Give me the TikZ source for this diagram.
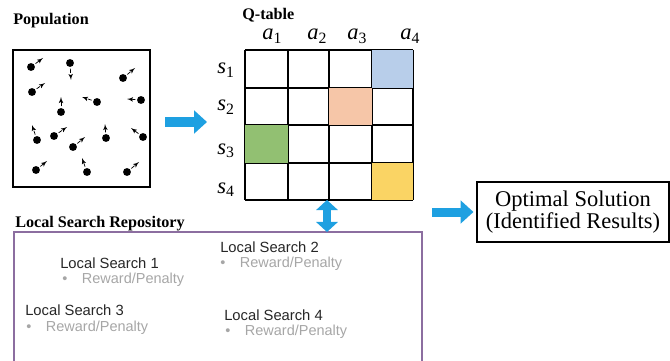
\documentclass[tikz,border=0pt]{standalone}
\usepackage{fontspec}
\setmainfont{Liberation Serif}
\setsansfont{Liberation Sans}
\usetikzlibrary{shapes,arrows,arrows.meta}
\definecolor{arrowblue}{RGB}{30,160,225}
\definecolor{repopurple}{RGB}{140,110,160}
\definecolor{cellblue}{RGB}{184,206,234}
\definecolor{cellpeach}{RGB}{246,198,168}
\definecolor{cellgreen}{RGB}{146,192,114}
\definecolor{cellyellow}{RGB}{250,212,100}
\tikzstyle{heading} = [font=\bfseries\fontsize{11.5}{13}\selectfont, inner sep=0pt, anchor=west]
\tikzstyle{qlabel} = [font=\fontsize{16}{16}\selectfont, inner sep=0pt, text height=0.5em, text depth=0.2em, anchor=base west]
\tikzstyle{agent} = [circle, fill=black, inner sep=0pt, minimum size=5.6pt]
\tikzstyle{drift} = [densely dashed, -latex', line width=0.5pt, shorten <=1pt]
\tikzstyle{bigarrow} = [draw=arrowblue, line width=0.225cm, -{Triangle[length=0.32cm,width=0.56cm]}]
\tikzstyle{lstitle} = [font=\sffamily\fontsize{10.5}{12}\selectfont, text=black!85, inner sep=0pt, anchor=west]
\tikzstyle{reward} = [font=\sffamily\fontsize{10.3}{12}\selectfont, text=black!35, inner sep=0pt, anchor=west]
\newcommand{\rewardline}{\makebox[14pt][l]{\textbullet}Reward/Penalty}
\newcommand{\qsym}[2]{\textit{#1}\textsubscript{#2}}

\begin{document}
\begin{tikzpicture}[x=0.025cm, y=-0.025cm]
		\useasboundingbox (0,0) rectangle (670,361);
		\node [heading] (pophead) at (13,21) {Population};
		\node [draw, line width=1.1pt, minimum width=3.425cm, minimum height=3.425cm] (pop) at (81.5,118.5) {};
		\foreach \x/\y/\u/\v [count=\i] in {31/67/43/58, 70/63/71/80, 123/78/135/68, 32/92/45/83,
			61/112/61/97, 97/102/82/97, 141/100/127/99, 37/140/32/125, 54/136/67/127,
			73/147/85/137, 106/138/105/124, 143/137/131/128, 36/170/47/161, 87/172/82/158, 127/172/139/162} {
			\node [agent] (p\i) at (\x,\y) {};
			\draw [drift] (p\i) -- (\u,\v);
		}
		
		\node [heading] (qhead) at (242,15) {Q-table};
		\foreach \x in {245,288,329,372,413}
			\draw [line width=0.9pt] (\x,50) -- (\x,200);
		\foreach \y in {50,88,125,163,200}
			\draw [line width=0.9pt] (245,\y) -- (413,\y);
		\fill [cellblue] (372,50) rectangle (413,88);
		\fill [cellpeach] (329,88) rectangle (372,125);
		\fill [cellgreen] (245,125) rectangle (288,163);
		\fill [cellyellow] (372,163) rectangle (413,200);
		\node [qlabel] (a1) at (262,40) {\qsym{a}{1}};
		\node [qlabel] (a2) at (307,40) {\qsym{a}{2}};
		\node [qlabel] (a3) at (347,40) {\qsym{a}{3}};
		\node [qlabel] (a4) at (400,40) {\qsym{a}{4}};
		\node [qlabel] (s1) at (217,74) {\qsym{s}{1}};
		\node [qlabel] (s2) at (217,111) {\qsym{s}{2}};
		\node [qlabel] (s3) at (217,154) {\qsym{s}{3}};
		\node [qlabel] (s4) at (217,193) {\qsym{s}{4}};
		
		\node [heading] (repohead) at (15,224) {Local Search Repository};
		\draw [repopurple, line width=1.4pt] (14,365) |- (422,232) -- (422,365);
		\node [lstitle] (ls1) at (60,263) {Local Search 1};
		\node [reward] (rw1) at (62,280) {\rewardline};
		\node [lstitle] (ls2) at (220,247) {Local Search 2};
		\node [reward] (rw2) at (220,264) {\rewardline};
		\node [lstitle] (ls3) at (25,310) {Local Search 3};
		\node [reward] (rw3) at (26,328) {\rewardline};
		\node [lstitle] (ls4) at (224,315) {Local Search 4};
		\node [reward] (rw4) at (225,332) {\rewardline};
		
		\node [draw, line width=1pt, minimum width=4.8cm, minimum height=1.5cm, align=center,
			font=\fontsize{16}{14.5}\selectfont] (opt) at (573,212) {Optimal Solution\\(Identified Results)};
		
		\coordinate (popexit) at (165,122);
		\coordinate (qentry) at (207,122);
		\coordinate (qbottom) at (327,200);
		\coordinate (repotop) at (327,232);
		\coordinate (repoexit) at (432,212);
		\path [bigarrow] (popexit) -- (qentry);
		\path [bigarrow, {Triangle[length=0.25cm,width=0.53cm]}-{Triangle[length=0.25cm,width=0.53cm]}, line width=0.2cm] (qbottom) -- (repotop);
		\path [bigarrow, shorten >=2pt] (repoexit) -- (opt.west);
\end{tikzpicture}
\end{document}
